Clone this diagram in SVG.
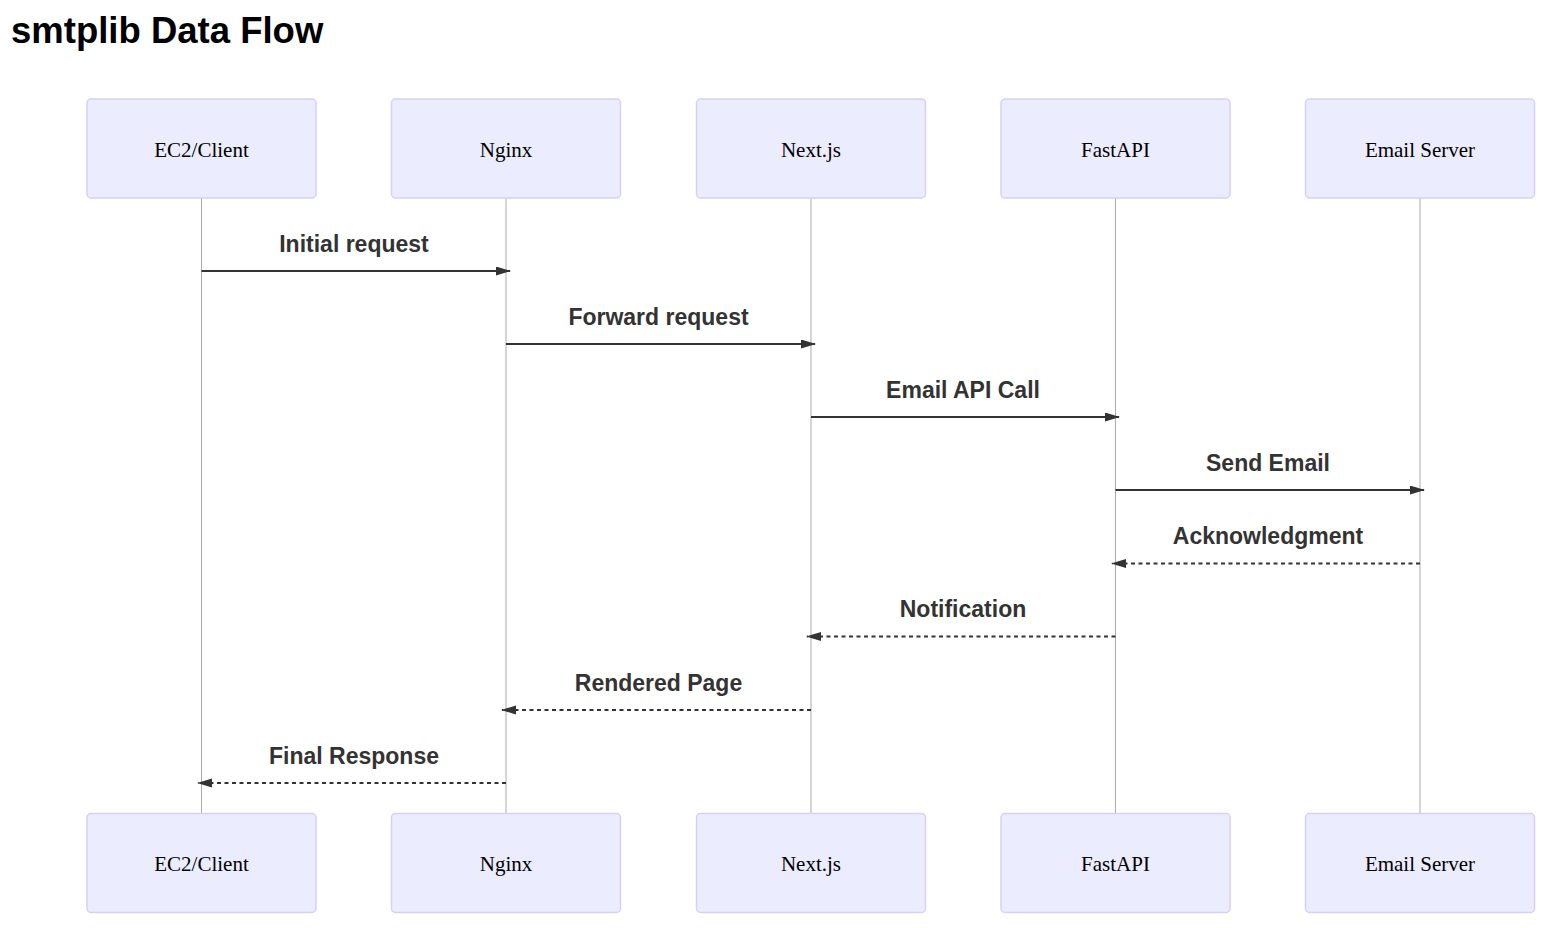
<svg xmlns="http://www.w3.org/2000/svg" width="1555" height="928" viewBox="0 0 1555 928">
<style>
.actor{fill:#ECECFF;stroke:#D8CFF5;stroke-width:1.5}
.atext{font-family:"Liberation Serif",serif;font-size:21px;fill:#000;text-anchor:middle;dominant-baseline:central}
.life{stroke:#aaaaaa;stroke-width:1}
.msg{stroke:#333;stroke-width:2.2;fill:none}
.dash{stroke-dasharray:4,3.5}
.mtext{font-family:"Liberation Sans",Arial,sans-serif;font-weight:bold;font-size:23px;fill:#333;text-anchor:middle}
.title{font-family:"Liberation Sans",Arial,sans-serif;font-weight:bold;font-size:36.5px;fill:#000}
</style>
<defs>
<marker id="arrow" markerUnits="userSpaceOnUse" markerWidth="16" markerHeight="10" refX="14" refY="4.5" orient="auto" viewBox="0 0 16 10">
<path d="M0,0 L15,4.5 L0,9 Z" fill="#333"/>
</marker>
</defs>
<rect width="1555" height="928" fill="#fff"/>
<text class="title" x="11" y="43">smtplib Data Flow</text>
<g id="lifelines">
<line class="life" x1="201.5" y1="198" x2="201.5" y2="813"/>
<line class="life" x1="506" y1="198" x2="506" y2="813"/>
<line class="life" x1="811" y1="198" x2="811" y2="813"/>
<line class="life" x1="1115.5" y1="198" x2="1115.5" y2="813"/>
<line class="life" x1="1420" y1="198" x2="1420" y2="813"/>
</g>
<g id="actor-client">
<rect class="actor" x="87" y="99" width="229" height="99" rx="4"/>
<text class="atext" x="201.5" y="150">EC2/Client</text>
<rect class="actor" x="87" y="813.5" width="229" height="99" rx="4"/>
<text class="atext" x="201.5" y="864">EC2/Client</text>
</g>
<g id="actor-nginx">
<rect class="actor" x="391.5" y="99" width="229" height="99" rx="4"/>
<text class="atext" x="506" y="150">Nginx</text>
<rect class="actor" x="391.5" y="813.5" width="229" height="99" rx="4"/>
<text class="atext" x="506" y="864">Nginx</text>
</g>
<g id="actor-next">
<rect class="actor" x="696.5" y="99" width="229" height="99" rx="4"/>
<text class="atext" x="811" y="150">Next.js</text>
<rect class="actor" x="696.5" y="813.5" width="229" height="99" rx="4"/>
<text class="atext" x="811" y="864">Next.js</text>
</g>
<g id="actor-fastapi">
<rect class="actor" x="1001" y="99" width="229" height="99" rx="4"/>
<text class="atext" x="1115.5" y="150">FastAPI</text>
<rect class="actor" x="1001" y="813.5" width="229" height="99" rx="4"/>
<text class="atext" x="1115.5" y="864">FastAPI</text>
</g>
<g id="actor-email">
<rect class="actor" x="1305.5" y="99" width="229" height="99" rx="4"/>
<text class="atext" x="1420" y="150">Email Server</text>
<rect class="actor" x="1305.5" y="813.5" width="229" height="99" rx="4"/>
<text class="atext" x="1420" y="864">Email Server</text>
</g>
<g id="messages">
<text class="mtext" x="354" y="252">Initial request</text>
<line class="msg" x1="201.5" y1="271" x2="510" y2="271" marker-end="url(#arrow)"/>
<text class="mtext" x="658.5" y="325">Forward request</text>
<line class="msg" x1="506" y1="344" x2="815" y2="344" marker-end="url(#arrow)"/>
<text class="mtext" x="963" y="398">Email API Call</text>
<line class="msg" x1="811" y1="417" x2="1119" y2="417" marker-end="url(#arrow)"/>
<text class="mtext" x="1268" y="471">Send Email</text>
<line class="msg" x1="1115.5" y1="490" x2="1424" y2="490" marker-end="url(#arrow)"/>
<text class="mtext" x="1268" y="544">Acknowledgment</text>
<line class="msg dash" x1="1420" y1="563.5" x2="1112" y2="563.5" marker-end="url(#arrow)"/>
<text class="mtext" x="963" y="617">Notification</text>
<line class="msg dash" x1="1115.5" y1="636.5" x2="807" y2="636.5" marker-end="url(#arrow)"/>
<text class="mtext" x="658.5" y="691">Rendered Page</text>
<line class="msg dash" x1="811" y1="710" x2="502" y2="710" marker-end="url(#arrow)"/>
<text class="mtext" x="354" y="764">Final Response</text>
<line class="msg dash" x1="506" y1="783" x2="198" y2="783" marker-end="url(#arrow)"/>
</g>
</svg>
